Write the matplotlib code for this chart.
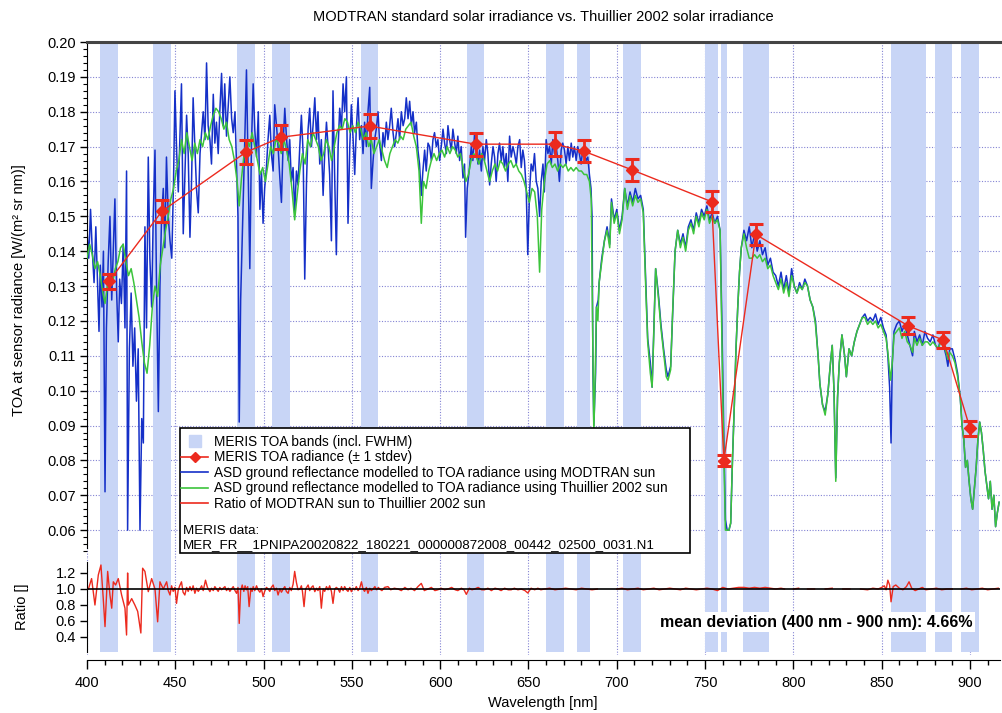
import numpy as np
import matplotlib
matplotlib.use("Agg")
import matplotlib.pyplot as plt
from matplotlib.lines import Line2D
from matplotlib.patches import Rectangle
from matplotlib.ticker import MultipleLocator, FormatStrFormatter

# MERIS bands (centre, width incl. FWHM) and MERIS TOA radiance
band_center = [412.5, 442.5, 490, 510, 560, 620, 665, 681.25, 708.75, 753.75, 760.625, 778.75, 865, 885, 900]
band_width = [10, 10, 10, 10, 10, 10, 10, 7.5, 10, 7.5, 3.75, 15, 20, 10, 10]
meris_rad = [0.1314, 0.1515, 0.1684, 0.1727, 0.1759, 0.1707, 0.1707, 0.1687, 0.1633, 0.1542,
             0.0799, 0.1448, 0.1186, 0.1145, 0.0892]
meris_std = [0.0022, 0.0031, 0.0034, 0.0035, 0.0035, 0.0033, 0.0035, 0.0032, 0.0032, 0.0030,
             0.0016, 0.0029, 0.0024, 0.0022, 0.0021]

# ASD ground reflectance -> TOA radiance using MODTRAN sun
modtran_wl = [
    400.0, 401.0, 402.0, 403.0, 404.0, 405.0, 406.0, 406.8, 407.5, 408.5,
    409.3, 410.2, 411.0, 412.0, 413.0, 414.0, 415.0, 415.8, 416.8, 417.7,
    418.5, 419.5, 420.5, 421.5, 422.4, 423.0, 424.0, 425.0, 426.0, 427.0,
    428.0, 429.0, 430.0, 431.0, 431.9, 432.8, 433.7, 434.7, 435.6, 436.6,
    437.5, 438.5, 439.3, 440.4, 441.3, 442.2, 443.2, 444.1, 445.0, 446.0,
    447.0, 448.0, 449.0, 449.8, 450.8, 451.7, 452.6, 453.5, 454.5, 455.5,
    456.4, 457.3, 458.3, 459.2, 460.1, 461.0, 462.0, 463.0, 464.0, 465.8,
    466.8, 467.7, 468.6, 469.6, 470.5, 471.5, 472.4, 473.3, 474.3, 475.2,
    476.2, 477.1, 478.0, 479.0, 480.0, 480.9, 481.9, 482.8, 483.8, 484.7,
    485.5, 486.2, 487.0, 488.4, 489.3, 490.3, 491.2, 492.2, 493.1, 494.1,
    495.0, 496.0, 497.0, 497.9, 498.8, 499.7, 500.6, 501.6, 502.5, 503.5,
    504.4, 505.4, 506.3, 507.3, 508.2, 509.2, 510.1, 511.0, 512.0, 512.9,
    513.9, 514.8, 515.7, 516.7, 517.6, 518.6, 519.5, 520.5, 521.4, 522.4,
    523.3, 524.3, 525.2, 526.1, 527.1, 528.0, 529.0, 530.0, 530.8, 531.8,
    532.7, 533.7, 534.6, 535.6, 536.5, 537.4, 538.4, 539.3, 540.3, 541.2,
    542.2, 543.1, 544.1, 545.0, 545.9, 546.9, 547.8, 548.8, 549.7, 550.7,
    551.6, 552.5, 553.5, 554.4, 555.4, 556.3, 557.2, 558.2, 559.1, 560.1,
    561.0, 562.0, 562.9, 563.8, 564.8, 565.7, 566.7, 567.6, 568.5, 569.5,
    570.4, 571.4, 572.3, 573.3, 574.2, 575.2, 576.1, 577.0, 578.0, 579.0,
    579.9, 580.8, 581.8, 582.7, 583.7, 584.6, 585.5, 586.5, 587.4, 588.3,
    589.3, 590.2, 591.2, 592.1, 593.1, 594.0, 595.0, 595.9, 596.8, 597.8,
    598.7, 599.7, 600.6, 601.6, 602.5, 603.5, 604.4, 605.3, 606.3, 607.2,
    608.2, 609.1, 610.0, 611.0, 611.9, 612.9, 613.8, 614.4, 615.3, 616.6,
    617.6, 618.5, 619.5, 620.4, 621.4, 622.3, 623.3, 624.2, 625.1, 626.1,
    627.0, 628.0, 628.9, 629.9, 630.8, 631.7, 632.7, 633.6, 634.6, 635.5,
    636.4, 637.4, 638.3, 639.3, 640.2, 641.2, 642.1, 643.1, 644.0, 645.0,
    645.9, 646.8, 647.7, 648.7, 649.6, 650.6, 651.5, 652.5, 653.4, 654.4,
    655.3, 656.3, 657.2, 658.2, 659.0, 660.0, 661.0, 661.9, 662.9, 663.8,
    664.7, 665.7, 666.6, 667.5, 668.5, 669.4, 670.4, 671.3, 672.3, 673.2,
    674.2, 675.1, 676.0, 677.0, 677.9, 678.8, 679.8, 680.7, 681.7, 682.6,
    683.6, 684.5, 685.4, 686.0, 686.5, 687.0, 688.0, 688.5, 689.5, 690.0,
    691.5, 693.0, 694.5, 696.0, 697.0, 698.5, 700.0, 701.5, 703.0, 704.5,
    706.0, 707.5, 709.0, 710.5, 712.0, 713.5, 715.0, 716.5, 717.5, 719.0,
    720.0, 721.0, 722.0, 723.5, 725.0, 726.5, 728.0, 729.0, 730.5, 731.5,
    733.0, 734.5, 736.0, 737.5, 739.0, 740.5, 742.0, 743.5, 745.0, 746.5,
    748.0, 749.5, 751.0, 752.5, 754.0, 755.5, 757.0, 758.5, 759.5, 760.5,
    761.5, 762.5, 763.5, 764.5, 765.5, 766.5, 767.5, 768.5, 769.5, 770.5,
    772.0, 773.5, 775.0, 776.5, 778.0, 779.5, 781.0, 782.5, 784.0, 785.5,
    787.0, 788.5, 790.0, 791.5, 793.0, 794.5, 796.0, 797.5, 799.0, 800.5,
    802.0, 803.5, 805.0, 806.5, 808.0, 809.5, 811.0, 812.5, 814.0, 815.0,
    816.5, 818.0, 819.5, 821.0, 822.0, 823.0, 824.0, 825.0, 826.0, 827.5,
    829.0, 830.0, 831.5, 833.0, 834.5, 836.0, 837.5, 839.0, 840.5, 842.0,
    843.5, 845.0, 846.5, 848.0, 849.5, 851.0, 852.5, 853.5, 854.5, 855.3,
    856.0, 857.0, 858.5, 860.0, 861.5, 863.0, 864.5, 866.0, 867.5, 868.5,
    870.0, 871.5, 873.0, 874.5, 876.0, 877.5, 879.0, 880.5, 882.0, 883.5,
    885.0, 886.5, 887.5, 888.5, 890.0, 891.5, 893.0, 894.5, 895.5, 896.5,
    897.5, 898.5, 899.5, 900.5, 901.5, 902.5, 903.5, 904.5, 905.5, 906.5,
    907.5, 908.5, 909.5, 910.5, 911.5, 912.5, 913.5, 914.5, 915.5, 916.5,
]
modtran_rad = [
    0.146, 0.138, 0.152, 0.140, 0.131, 0.147, 0.130, 0.117, 0.136, 0.124,
    0.140, 0.071, 0.118, 0.137, 0.150, 0.126, 0.142, 0.155, 0.128, 0.114,
    0.132, 0.125, 0.142, 0.118, 0.163, 0.060, 0.112, 0.128, 0.107, 0.118,
    0.097, 0.112, 0.060, 0.092, 0.085, 0.147, 0.118, 0.167, 0.138, 0.124,
    0.150, 0.169, 0.133, 0.094, 0.130, 0.149, 0.158, 0.141, 0.167, 0.150,
    0.143, 0.138, 0.160, 0.186, 0.168, 0.157, 0.172, 0.188, 0.145, 0.163,
    0.179, 0.168, 0.144, 0.160, 0.184, 0.171, 0.158, 0.151, 0.168, 0.180,
    0.172, 0.194, 0.176, 0.172, 0.165, 0.185, 0.171, 0.177, 0.168, 0.180,
    0.191, 0.176, 0.188, 0.173, 0.182, 0.190, 0.178, 0.174, 0.180, 0.164,
    0.150, 0.091, 0.126, 0.153, 0.171, 0.192, 0.165, 0.135, 0.170, 0.188,
    0.175, 0.167, 0.180, 0.152, 0.163, 0.148, 0.158, 0.164, 0.172, 0.179,
    0.168, 0.163, 0.182, 0.176, 0.170, 0.161, 0.154, 0.170, 0.181, 0.173,
    0.166, 0.172, 0.160, 0.164, 0.151, 0.163, 0.159, 0.170, 0.179, 0.168,
    0.132, 0.160, 0.175, 0.181, 0.170, 0.176, 0.184, 0.172, 0.180, 0.165,
    0.172, 0.156, 0.168, 0.177, 0.170, 0.162, 0.143, 0.186, 0.160, 0.139,
    0.170, 0.181, 0.175, 0.188, 0.180, 0.190, 0.148, 0.170, 0.182, 0.172,
    0.162, 0.175, 0.184, 0.172, 0.176, 0.168, 0.177, 0.170, 0.180, 0.187,
    0.158, 0.166, 0.172, 0.175, 0.180, 0.171, 0.166, 0.174, 0.170, 0.177,
    0.172, 0.176, 0.181, 0.174, 0.170, 0.174, 0.178, 0.172, 0.180, 0.176,
    0.178, 0.184, 0.178, 0.183, 0.176, 0.180, 0.174, 0.177, 0.169, 0.165,
    0.156, 0.163, 0.169, 0.163, 0.171, 0.170, 0.166, 0.172, 0.174, 0.170,
    0.172, 0.166, 0.170, 0.175, 0.171, 0.168, 0.176, 0.172, 0.169, 0.175,
    0.171, 0.168, 0.173, 0.166, 0.170, 0.161, 0.165, 0.144, 0.158, 0.164,
    0.170, 0.166, 0.174, 0.170, 0.165, 0.169, 0.163, 0.170, 0.166, 0.172,
    0.168, 0.159, 0.165, 0.170, 0.167, 0.160, 0.168, 0.171, 0.166, 0.170,
    0.164, 0.168, 0.160, 0.173, 0.167, 0.170, 0.168, 0.165, 0.170, 0.172,
    0.164, 0.169, 0.166, 0.158, 0.139, 0.157, 0.165, 0.163, 0.168, 0.160,
    0.158, 0.150, 0.160, 0.165, 0.157, 0.172, 0.168, 0.170, 0.165, 0.172,
    0.168, 0.170, 0.166, 0.160, 0.169, 0.171, 0.169, 0.165, 0.170, 0.166,
    0.171, 0.167, 0.170, 0.166, 0.170, 0.168, 0.165, 0.169, 0.168, 0.166,
    0.167, 0.162, 0.158, 0.150, 0.105, 0.090, 0.105, 0.124, 0.126, 0.131,
    0.138, 0.143, 0.147, 0.142, 0.155, 0.149, 0.152, 0.146, 0.150, 0.158,
    0.153, 0.157, 0.154, 0.158, 0.155, 0.156, 0.152, 0.130, 0.115, 0.108,
    0.101, 0.118, 0.135, 0.128, 0.119, 0.112, 0.106, 0.104, 0.107, 0.120,
    0.140, 0.146, 0.142, 0.145, 0.141, 0.147, 0.149, 0.146, 0.151, 0.148,
    0.152, 0.150, 0.153, 0.149, 0.151, 0.148, 0.150, 0.146, 0.120, 0.090,
    0.063, 0.060, 0.060, 0.062, 0.080, 0.095, 0.112, 0.124, 0.134, 0.141,
    0.146, 0.143, 0.147, 0.141, 0.145, 0.140, 0.143, 0.139, 0.141, 0.136,
    0.138, 0.134, 0.133, 0.130, 0.134, 0.129, 0.133, 0.128, 0.135, 0.130,
    0.128, 0.131, 0.129, 0.132, 0.130, 0.126, 0.124, 0.120, 0.110, 0.102,
    0.096, 0.094, 0.099, 0.108, 0.113, 0.100, 0.075, 0.098, 0.108, 0.116,
    0.110, 0.104, 0.112, 0.110, 0.114, 0.117, 0.119, 0.121, 0.122, 0.120,
    0.121, 0.120, 0.122, 0.119, 0.121, 0.118, 0.116, 0.110, 0.101, 0.085,
    0.108, 0.117, 0.119, 0.120, 0.117, 0.119, 0.116, 0.113, 0.110, 0.117,
    0.114, 0.116, 0.113, 0.117, 0.115, 0.114, 0.116, 0.113, 0.112, 0.115,
    0.113, 0.110, 0.107, 0.112, 0.112, 0.109, 0.105, 0.098, 0.090, 0.086,
    0.078, 0.080, 0.074, 0.069, 0.066, 0.072, 0.078, 0.086, 0.091, 0.088,
    0.083, 0.077, 0.073, 0.069, 0.074, 0.066, 0.070, 0.061, 0.065, 0.068,
]

# ASD ground reflectance -> TOA radiance using Thuillier 2002 sun
thuillier_wl = [
    400.0, 401.5, 403.0, 404.5, 406.0, 407.5, 409.0, 410.2, 411.5, 413.0,
    414.5, 416.0, 417.5, 419.0, 420.5, 422.0, 423.5, 425.0, 426.5, 428.0,
    429.5, 431.0, 432.5, 434.0, 435.5, 437.0, 438.5, 440.0, 441.5, 443.0,
    444.5, 446.0, 447.5, 449.0, 450.5, 452.0, 453.5, 455.0, 456.5, 458.0,
    459.5, 461.0, 462.5, 464.0, 465.5, 467.0, 468.5, 470.0, 471.5, 473.0,
    474.5, 476.0, 477.5, 479.0, 480.5, 482.0, 483.5, 485.0, 486.2, 487.5,
    489.0, 490.5, 492.0, 493.5, 495.0, 496.5, 498.0, 499.5, 501.0, 502.5,
    504.0, 505.5, 507.0, 508.5, 510.0, 511.5, 513.0, 514.5, 516.0, 517.6,
    519.0, 520.5, 522.0, 523.5, 525.0, 526.5, 528.0, 529.5, 531.0, 532.5,
    534.0, 535.5, 537.0, 538.5, 540.0, 541.5, 543.0, 544.5, 546.0, 547.5,
    549.0, 550.5, 552.0, 553.5, 555.0, 556.5, 558.0, 559.5, 561.0, 562.5,
    564.0, 565.5, 567.0, 568.5, 570.0, 571.5, 573.0, 574.5, 576.0, 577.5,
    579.0, 580.5, 582.0, 583.5, 585.0, 586.5, 588.0, 589.3, 590.5, 592.0,
    593.5, 595.0, 596.5, 598.0, 599.5, 601.0, 602.5, 604.0, 605.5, 607.0,
    608.5, 610.0, 611.5, 613.0, 614.5, 616.0, 617.5, 619.0, 620.5, 622.0,
    623.5, 625.0, 626.5, 628.0, 629.5, 631.0, 632.5, 634.0, 635.5, 637.0,
    638.5, 640.0, 641.5, 643.0, 644.5, 646.0, 647.5, 649.0, 650.5, 652.0,
    653.5, 655.0, 656.3, 657.5, 659.0, 660.5, 662.0, 663.5, 665.0, 666.5,
    668.0, 669.5, 671.0, 672.5, 674.0, 675.5, 677.0, 678.5, 680.0, 681.5,
    683.0, 684.5, 685.5, 686.3, 687.0, 687.8, 688.5, 689.3, 690.0, 691.5,
    693.0, 694.5, 696.0, 697.0, 698.5, 700.0, 701.5, 703.0, 704.5, 706.0,
    707.5, 709.0, 710.5, 712.0, 713.5, 715.0, 716.5, 717.5, 719.0, 720.0,
    721.0, 722.0, 723.5, 725.0, 726.5, 728.0, 729.0, 730.5, 731.5, 733.0,
    734.5, 736.0, 737.5, 739.0, 740.5, 742.0, 743.5, 745.0, 746.5, 748.0,
    749.5, 751.0, 752.5, 754.0, 755.5, 757.0, 758.5, 759.5, 760.5, 761.5,
    762.5, 763.5, 764.5, 765.5, 766.5, 767.5, 768.5, 769.5, 770.5, 772.0,
    773.5, 775.0, 776.5, 778.0, 779.5, 781.0, 782.5, 784.0, 785.5, 787.0,
    788.5, 790.0, 791.5, 793.0, 794.5, 796.0, 797.5, 799.0, 800.5, 802.0,
    803.5, 805.0, 806.5, 808.0, 809.5, 811.0, 812.5, 814.0, 815.0, 816.5,
    818.0, 819.5, 821.0, 822.0, 823.0, 824.0, 825.0, 826.0, 827.5, 829.0,
    830.0, 831.5, 833.0, 834.5, 836.0, 837.5, 839.0, 840.5, 842.0, 843.5,
    845.0, 846.5, 848.0, 849.5, 851.0, 852.5, 853.5, 855.0, 856.0, 857.0,
    858.5, 860.0, 861.5, 863.0, 864.5, 866.0, 867.5, 868.5, 870.0, 871.5,
    873.0, 874.5, 876.0, 877.5, 879.0, 880.5, 882.0, 883.5, 885.0, 886.5,
    887.5, 888.5, 890.0, 891.5, 893.0, 894.5, 895.5, 896.5, 897.5, 898.5,
    899.5, 900.5, 901.5, 902.5, 903.5, 904.5, 905.5, 906.5, 907.5, 908.5,
    909.5, 910.5, 911.5, 912.5, 913.5, 914.5, 915.5, 916.5,
]
thuillier_rad = [
    0.138, 0.142, 0.139, 0.135, 0.137, 0.133, 0.128, 0.125, 0.130, 0.133,
    0.131, 0.135, 0.137, 0.141, 0.142, 0.137, 0.133, 0.135, 0.131, 0.126,
    0.121, 0.114, 0.108, 0.105, 0.113, 0.124, 0.130, 0.127, 0.136, 0.141,
    0.146, 0.150, 0.155, 0.158, 0.163, 0.166, 0.172, 0.168, 0.174, 0.170,
    0.166, 0.171, 0.168, 0.172, 0.170, 0.174, 0.172, 0.176, 0.179, 0.181,
    0.180, 0.178, 0.175, 0.177, 0.172, 0.170, 0.166, 0.160, 0.153, 0.161,
    0.168, 0.172, 0.170, 0.174, 0.170, 0.166, 0.162, 0.164, 0.160, 0.165,
    0.170, 0.168, 0.172, 0.171, 0.168, 0.172, 0.169, 0.165, 0.158, 0.149,
    0.156, 0.163, 0.168, 0.165, 0.172, 0.170, 0.174, 0.172, 0.170, 0.166,
    0.168, 0.172, 0.170, 0.166, 0.170, 0.174, 0.176, 0.175, 0.178, 0.177,
    0.174, 0.176, 0.174, 0.177, 0.175, 0.172, 0.174, 0.170, 0.172, 0.168,
    0.170, 0.172, 0.169, 0.166, 0.164, 0.168, 0.170, 0.172, 0.171, 0.173,
    0.172, 0.175, 0.176, 0.177, 0.173, 0.170, 0.163, 0.148, 0.160, 0.158,
    0.163, 0.166, 0.168, 0.166, 0.168, 0.169, 0.167, 0.170, 0.168, 0.170,
    0.169, 0.167, 0.168, 0.164, 0.160, 0.162, 0.166, 0.168, 0.167, 0.165,
    0.168, 0.166, 0.163, 0.160, 0.163, 0.165, 0.163, 0.166, 0.165, 0.163,
    0.165, 0.166, 0.164, 0.165, 0.163, 0.162, 0.160, 0.157, 0.154, 0.158,
    0.157, 0.150, 0.134, 0.152, 0.160, 0.165, 0.166, 0.164, 0.165, 0.163,
    0.165, 0.164, 0.165, 0.163, 0.164, 0.163, 0.164, 0.163, 0.163, 0.162,
    0.162, 0.160, 0.155, 0.120, 0.088, 0.105, 0.124, 0.120, 0.131, 0.137,
    0.143, 0.146, 0.141, 0.154, 0.148, 0.151, 0.145, 0.149, 0.158, 0.152,
    0.156, 0.153, 0.156, 0.154, 0.155, 0.151, 0.128, 0.114, 0.105, 0.101,
    0.117, 0.135, 0.127, 0.118, 0.111, 0.104, 0.103, 0.106, 0.121, 0.140,
    0.146, 0.141, 0.144, 0.140, 0.146, 0.148, 0.145, 0.150, 0.147, 0.151,
    0.149, 0.152, 0.148, 0.150, 0.148, 0.149, 0.146, 0.115, 0.085, 0.060,
    0.060, 0.060, 0.062, 0.080, 0.095, 0.112, 0.124, 0.134, 0.141, 0.145,
    0.141, 0.138, 0.138, 0.139, 0.138, 0.139, 0.137, 0.138, 0.135, 0.136,
    0.133, 0.131, 0.129, 0.132, 0.128, 0.131, 0.127, 0.133, 0.130, 0.128,
    0.130, 0.129, 0.131, 0.130, 0.126, 0.124, 0.119, 0.110, 0.102, 0.096,
    0.093, 0.099, 0.108, 0.113, 0.100, 0.074, 0.098, 0.108, 0.116, 0.110,
    0.104, 0.112, 0.110, 0.114, 0.117, 0.119, 0.121, 0.121, 0.119, 0.120,
    0.119, 0.120, 0.118, 0.119, 0.117, 0.115, 0.111, 0.103, 0.108, 0.116,
    0.117, 0.118, 0.115, 0.117, 0.114, 0.113, 0.111, 0.115, 0.113, 0.115,
    0.113, 0.114, 0.114, 0.113, 0.114, 0.113, 0.112, 0.114, 0.113, 0.111,
    0.109, 0.111, 0.110, 0.108, 0.104, 0.098, 0.090, 0.086, 0.078, 0.080,
    0.074, 0.069, 0.066, 0.072, 0.078, 0.086, 0.091, 0.088, 0.083, 0.077,
    0.073, 0.069, 0.074, 0.066, 0.070, 0.061, 0.065, 0.068,
]

# ratio of MODTRAN sun to Thuillier 2002 sun (nan = gap)
ratio_wl = [
    400.8, 402.6, 404.5, 406.4, 407.9, 409.2, 410.2, 411.7, 413.0, 414.0,
    414.9, 416.2, 417.7, 419.6, 421.5, 422.4, 423.0, 423.4, 425.3, 427.1,
    428.7, 430.5, 431.5, 432.8, 434.7, 436.6, 438.5, 440.0, 441.3, 443.2,
    445.1, 446.0, 447.0, 447.9, 448.8, 449.8, 450.7, 451.6, 452.5, 453.5,
    454.4, 455.4, 456.4, 457.3, 458.3, 459.2, 460.1, 461.1, 462.0, 463.0,
    463.9, 464.9, 465.8, 467.1, 468.2, 469.6, 470.5, 471.5, 472.4, 473.3,
    474.3, 475.2, 476.2, 477.1, 478.1, 479.0, 480.0, 480.9, 481.8, 482.8,
    483.8, 484.7, 485.5, 486.2, 487.0, 487.9, 488.8, 489.5, 490.3, 491.0,
    491.8, 492.8, 493.5, 494.1, 495.0, 496.0, 496.9, 497.9, 498.8, 499.7,
    500.6, 501.6, 502.6, 503.5, 504.4, 505.4, 506.3, 507.3, 508.2, 509.2,
    510.1, 511.1, 512.0, 512.9, 513.9, 514.8, 515.7, 516.7, 517.6, 518.6,
    519.5, 520.5, 521.4, 522.0, 522.9, 523.8, 525.2, 526.1, 527.1, 528.0,
    529.0, 530.0, 530.8, 531.8, 532.7, 533.7, 534.6, 535.6, 536.5, 537.4,
    538.4, 539.3, 540.3, 541.2, 542.2, 543.1, 544.1, 545.0, 545.9, 546.9,
    547.8, 548.8, 549.7, 550.7, 551.6, 552.5, 553.5, 554.4, 555.4, 556.3,
    557.2, 558.2, 559.1, 560.1, 561.0, 562.0, 563.0, 564.0, 565.0, 565.7,
    567.0, 568.5, 570.4, 572.0, 574.0, 576.1, 578.0, 580.0, 581.8, 583.5,
    585.5, 587.4, 589.3, 591.0, 593.1, 595.0, 597.0, 598.7, 600.5, 602.5,
    604.4, 606.5, 608.5, 610.0, 612.0, 613.5, 614.8, 616.5, 618.0, 619.5,
    621.5, 623.5, 625.1, 627.0, 629.0, 631.0, 632.7, 634.5, 636.5, 638.5,
    640.2, 642.0, 644.0, 645.9, 648.0, 649.6, 651.5, 653.5, 655.3, 657.0,
    659.0, 662.0, 665.0, 668.0, 671.0, 674.0, 677.0, 680.0, 683.0, 686.0,
    689.0, 692.0, 700.0, 703.0, 706.0, 709.0, 712.0, 715.0, 718.0, 721.0,
    724.0, 727.0, 730.0, 733.0, 736.0, 739.0, 742.0, 745.0, 748.0, 751.0,
    754.0, 757.0, 760.0, 763.0, 766.0, 769.0, 772.0, 775.0, 778.0, 781.0,
    784.0, 787.0, 790.0, 793.0, 795.0, 797.0, 800.0, 803.0, 806.0, 808.0,
    812.0, 815.0, 818.0, 822.0, 825.0, 828.0, 832.0, 835.0, 838.0, 842.0,
    845.0, 848.0, 850.0, 851.5, 852.5, 853.5, 854.5, 855.3, 856.5, 858.0,
    860.0, 862.0, 864.0, 865.5, 867.0, 869.0, 871.0, 873.0, 875.0, 878.0,
    881.0, 884.0, 887.0, 890.0, 892.0, 895.0, 898.0, 901.0, 904.0, 907.0,
    910.0, 913.0, 916.0,
]
nan = float("nan")
ratio_val = [
    1.00, 1.13, 0.80, 1.175, 1.30, 0.88, 0.53, 1.22, 0.925, 0.76,
    1.09, 1.05, 1.13, 0.925, 0.76, 0.425, 1.20, 0.80, 0.88, 0.80,
    0.72, 0.45, 1.26, 1.22, 0.967, 1.13, 1.00, 0.59, 1.09, 1.00,
    1.09, 0.98, 0.925, 1.04, 0.97, 1.02, 0.82, 0.98, 1.04, 1.09,
    0.96, 0.925, 1.02, 0.97, 1.03, 0.98, 1.04, 0.946, 1.01, 0.97,
    1.00, 1.04, 0.98, 1.11, 1.02, 0.967, 1.01, 0.98, 1.03, 1.00,
    0.97, 1.02, 0.99, 1.01, 1.03, 0.98, 1.01, 0.97, 1.00, 1.03,
    0.98, 0.946, 1.02, 0.57, 0.98, 1.05, 0.97, 1.04, 0.99, 1.03,
    0.78, 1.01, 0.97, 1.03, 0.98, 1.04, 0.99, 0.96, 1.00, 0.905,
    0.97, 1.02, 1.00, 0.97, 1.02, 1.05, 0.98, 1.01, 0.925, 1.00,
    0.96, 1.00, 1.03, 0.97, 0.946, 1.02, 0.98, 1.06, 1.22, 1.08,
    0.99, 1.00, 1.04, 0.97, 0.78, 1.00, 1.05, 0.98, 1.02, 1.04,
    0.967, 1.01, 0.98, 1.03, 0.76, 1.00, 0.97, 1.03, 0.99, 1.04,
    0.97, 0.82, 1.00, 1.02, 1.00, 0.96, 1.03, 0.98, 1.03, 0.99,
    0.97, 1.02, 0.967, 1.01, 0.99, 1.03, 0.98, 1.01, 1.09, 1.00,
    0.97, 1.02, 0.946, 1.01, 0.98, 1.00, 1.03, 0.99, 1.02, 1.00,
    0.98, 1.02, 1.03, 0.99, 1.01, 1.00, 0.98, 1.02, 0.99, 1.01,
    0.98, 1.03, 1.07, 0.98, 1.00, 1.02, 0.98, 0.99, 1.01, 0.99,
    1.00, 1.02, 0.99, 0.98, 1.01, 0.99, 0.933, 1.01, 0.99, 1.00,
    1.02, 0.99, 0.99, 1.01, 0.98, 1.01, 1.00, 0.98, 1.01, 0.99,
    0.99, 1.01, 0.99, 1.00, 0.98, 0.95, 1.01, 0.99, 1.01, 0.99,
    1.00, 1.01, 0.99, 1.00, 1.01, 1.00, 0.99, 1.01, 1.00, 0.99,
    1.00, nan, 1.00, 1.01, 0.99, 1.00, 1.01, 0.99, 1.00, 1.01,
    0.99, 1.00, 1.01, 1.00, 0.99, 1.01, 1.00, 0.99, 1.00, 1.01,
    1.00, 0.98, 1.02, 1.00, 1.01, 1.02, 1.02, 1.01, 1.02, 1.01,
    1.02, 1.01, 1.00, 1.01, 1.00, nan, 1.00, 1.01, nan, 1.00,
    1.00, nan, 1.00, 1.01, nan, 1.00, 1.00, nan, 1.00, 0.99,
    1.01, 1.00, 1.02, 1.04, 0.99, 1.11, 1.05, 0.84, 1.03, 1.05,
    1.01, 0.99, 1.03, 1.09, 1.01, 0.98, 1.00, 1.02, 0.99, 1.00,
    1.01, 0.99, 1.00, 1.00, nan, 1.00, 1.01, 0.99, 1.00, 1.01,
    0.99, 1.00, 1.01,
]

legend_labels = [
    "MERIS TOA bands (incl. FWHM)",
    "MERIS TOA radiance (\u00b1 1 stdev)",
    "ASD ground reflectance modelled to TOA radiance using MODTRAN sun",
    "ASD ground reflectance modelled to TOA radiance using Thuillier 2002 sun",
    "Ratio of MODTRAN sun to Thuillier 2002 sun",
]

band_col = "#c8d5f6"
blue = "#1530c8"
green = "#3cc43c"
red = "#ec2a1e"
grid_col = "#8484d4"

plt.rcParams["font.family"] = ["Liberation Sans", "DejaVu Sans"]

W, H = 1002, 713
fig = plt.figure(figsize=(W / 100, H / 100), dpi=100)


def fx(px):
    return px / W


def fy(py):
    return 1 - py / H


ax = fig.add_axes([fx(87), fy(557), fx(1000) - fx(87), fy(42) - fy(557)])
axr = fig.add_axes([fx(87), fy(655), fx(1000) - fx(87), fy(557) - fy(655)], sharex=ax)

for a in (ax, axr):
    a.set_axisbelow(True)
    a.grid(axis="x", which="major", color=grid_col, lw=0.8, ls=(0, (1, 1.5)))
    a.spines["right"].set_visible(False)

# bands
for c, w in zip(band_center, band_width):
    ax.axvspan(c - w / 2, c + w / 2, color=band_col, lw=0, zorder=1)
    axr.axvspan(c - w / 2, c + w / 2, ymin=0.03, ymax=1, color=band_col, lw=0, zorder=1)

# main panel
ax.plot(modtran_wl, modtran_rad, color=blue, lw=1.1, zorder=2)
ax.plot(thuillier_wl, thuillier_rad, color=green, lw=1.1, zorder=3)
ax.plot(band_center, meris_rad, color=red, lw=1.0, zorder=4)
ax.errorbar(band_center, meris_rad, yerr=meris_std, fmt="D", ms=6, color=red,
            ecolor=red, elinewidth=2, capsize=5, capthick=2.2, zorder=5)

ax.set_xlim(400, 917)
ax.set_ylim(0.0523, 0.20)
ax.yaxis.set_major_locator(MultipleLocator(0.01))
ax.yaxis.set_minor_locator(MultipleLocator(0.002))
ax.yaxis.set_major_formatter(FormatStrFormatter("%.2f"))
ax.grid(axis="y", which="major", color=grid_col, lw=0.8, ls=(0, (1, 1.5)))
ax.spines["bottom"].set_visible(False)
ax.spines["top"].set_linewidth(2.2)
ax.spines["top"].set_color("#444444")
ax.spines["left"].set_bounds(0.055, 0.20)
ax.tick_params(axis="x", which="both", bottom=False, labelbottom=False)
ax.tick_params(axis="y", which="major", direction="out", length=5, width=1, labelsize=10.5, pad=3)
ax.tick_params(axis="y", which="minor", direction="out", length=3, width=0.8)

# ratio panel
axr.plot(ratio_wl, ratio_val, color=red, lw=1.0, zorder=3)
axr.axhline(1.0, color="black", lw=1.2, zorder=4)
axr.set_ylim(0.175, 1.4)
axr.set_yticks([0.4, 0.6, 0.8, 1.0, 1.2])
axr.yaxis.set_major_formatter(FormatStrFormatter("%.1f"))
axr.spines["top"].set_visible(False)
axr.spines["left"].set_bounds(0.21, 1.34)
axr.spines["bottom"].set_position(("outward", 3.6))
axr.xaxis.set_major_locator(MultipleLocator(50))
axr.xaxis.set_minor_locator(MultipleLocator(10))
axr.tick_params(axis="y", direction="out", length=5, width=1, labelsize=10.5, pad=3)
axr.tick_params(axis="x", which="major", direction="out", length=6.5, width=1, labelsize=10.5, pad=5)
axr.tick_params(axis="x", which="minor", direction="out", length=3.6, width=1)

# texts
fig.text(fx(543), fy(17), "MODTRAN standard solar irradiance vs. Thuillier 2002 solar irradiance",
         ha="center", va="center", fontsize=10.5)
fig.text(fx(19), fy(290), "TOA at sensor radiance [W/(m\u00b2 sr nm)]", rotation=90,
         ha="center", va="center", fontsize=10.5)
fig.text(fx(22), fy(607), "Ratio []", rotation=90, ha="center", va="center", fontsize=10.5)
fig.text(fx(543), fy(703), "Wavelength [nm]", ha="center", va="center", fontsize=10.5)
fig.text(fx(660), fy(622), "mean deviation (400 nm - 900 nm): 4.66%", ha="left", va="center",
         fontsize=11.5, fontweight="bold", zorder=6,
         bbox=dict(facecolor="white", edgecolor="none", pad=1.5))

# legend box
fig.add_artist(Rectangle((fx(180), fy(553)), fx(690) - fx(180), fy(428) - fy(553),
                         transform=fig.transFigure, facecolor="white", edgecolor="black",
                         lw=1.2, zorder=4))
handles = [
    Line2D([], [], ls="none", marker="s", ms=9, color=band_col),
    Line2D([], [], color=red, lw=1.2, marker="D", ms=5),
    Line2D([], [], color=blue, lw=1.2),
    Line2D([], [], color=green, lw=1.2),
    Line2D([], [], color=red, lw=1.2),
]
fig.legend(handles, legend_labels, loc="upper left", bbox_to_anchor=(fx(181), fy(435)),
           frameon=False, fontsize=9.8, handlelength=2.0, handletextpad=0.4,
           labelspacing=0.11, borderpad=0, borderaxespad=0)
fig.text(fx(183), fy(531), "MERIS data:", ha="left", va="center", fontsize=9.6, zorder=6)
fig.text(fx(183), fy(545), "MER_FR__1PNIPA20020822_180221_000000872008_00442_02500_0031.N1",
         ha="left", va="center", fontsize=9.6, zorder=6)

fig.savefig("out.png", dpi=100)
